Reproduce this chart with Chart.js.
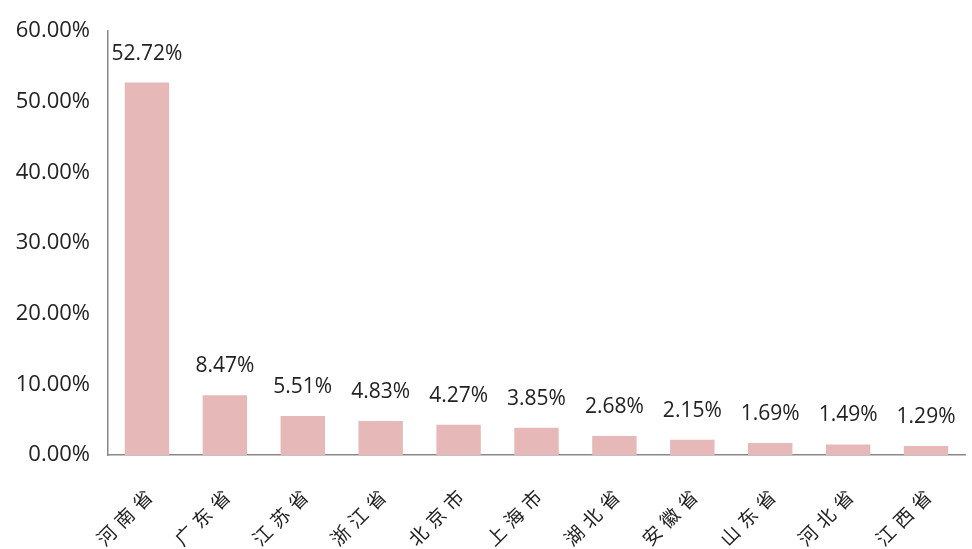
<!DOCTYPE html>
<html>
<head>
<meta charset="utf-8">
<script src="https://cdn.jsdelivr.net/npm/chart.js@4"></script>
<style>
  html, body { margin: 0; padding: 0; background: #fff; }
  #wrap { width: 972px; height: 549px; }
</style>
</head>
<body>
<div id="wrap"><canvas id="shareChart"></canvas></div>
<script>
const provinces = ["河南省", "广东省", "江苏省", "浙江省", "北京市", "上海市", "湖北省", "安徽省", "山东省", "河北省", "江西省"];
const shares = [52.72, 8.47, 5.51, 4.83, 4.27, 3.85, 2.68, 2.15, 1.69, 1.49, 1.29];
const yTicks = [0, 10, 20, 30, 40, 50, 60];

const numFont = "'Open Sans', 'DejaVu Sans', sans-serif";

// draws the value text above each bar
const valueLabels = {
    id: "valueLabels",
    afterDatasetsDraw(chart) {
        const ctx = chart.ctx;
        const meta = chart.getDatasetMeta(0);
        ctx.save();
        ctx.font = "21px " + numFont;
        ctx.fillStyle = "#222";
        ctx.textAlign = "center";
        ctx.textBaseline = "middle";
        meta.data.forEach((bar, i) => {
            ctx.fillText(shares[i].toFixed(2) + "%", bar.x, bar.y - 29);
        });
        ctx.restore();
    }
};

new Chart(document.getElementById("shareChart"), {
    type: "bar",
    data: {
        labels: provinces,
        datasets: [{
            data: shares,
            backgroundColor: "#e6b8b8",
            barPercentage: 0.57,
            categoryPercentage: 1
        }]
    },
    options: {
        responsive: true,
        maintainAspectRatio: false,
        animation: false,
        layout: { padding: { top: 15, right: 7 } },
        plugins: {
            legend: { display: false },
            tooltip: { enabled: false }
        },
        scales: {
            x: {
                grid: { display: false, drawTicks: false },
                border: { color: "#888", width: 1.5 },
                ticks: {
                    color: "#222",
                    font: { family: "'Noto Sans CJK SC'", size: 19 },
                    maxRotation: 45,
                    minRotation: 45,
                    padding: 26,
                    labelOffset: 6
                },
                afterFit(scale) { scale.height = 94; },
                afterUpdate(scale) {
                    // wider character spacing for the rotated province names
                    if (scale._spaced) return;
                    const drawLabels = scale.drawLabels.bind(scale);
                    scale.drawLabels = function (area) {
                        this.ctx.save();
                        this.ctx.letterSpacing = "6px";
                        drawLabels(area);
                        this.ctx.restore();
                    };
                    scale._spaced = true;
                }
            },
            y: {
                min: 0,
                max: 60,
                afterBuildTicks(scale) { scale.ticks = yTicks.map(v => ({ value: v })); },
                grid: { display: false, drawTicks: false },
                border: { color: "#888", width: 1.5 },
                ticks: {
                    color: "#222",
                    font: { family: numFont, size: 22 },
                    padding: 18,
                    callback: v => v.toFixed(2) + "%"
                },
                afterFit(scale) { scale.width = 108; }
            }
        }
    },
    plugins: [valueLabels]
});
</script>
</body>
</html>
